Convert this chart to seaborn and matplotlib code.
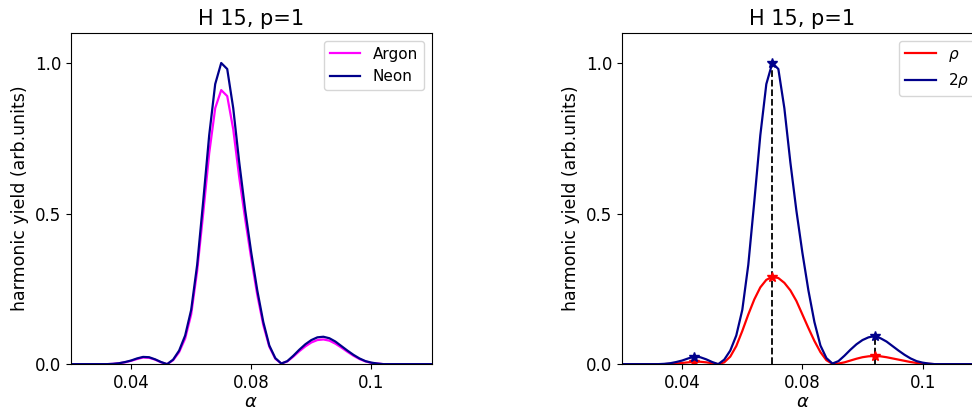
import numpy as np
import seaborn as sns
import matplotlib
matplotlib.use("Agg")
import matplotlib.pyplot as plt

# sample grid (axis position), ticks labelled 0.04 / 0.08 / 0.1
alpha = np.linspace(0.025, 0.115, 61)
tick_pos = [0.04, 0.07, 0.10]
tick_labels = ["0.04", "0.08", "0.1"]

yield_argon = [0, 0, 0, 0, 0, 0, 0,
               0.001, 0.003, 0.006, 0.011, 0.017, 0.022, 0.021, 0.015, 0.006, 0.000,
               0.013, 0.040, 0.085, 0.165, 0.31, 0.50, 0.70, 0.85, 0.91, 0.89, 0.78,
               0.62, 0.48, 0.35, 0.23, 0.13, 0.058, 0.018, 0.002, 0.009, 0.025, 0.043,
               0.059, 0.072, 0.080, 0.082, 0.078, 0.068, 0.055, 0.041, 0.028, 0.017,
               0.009, 0.004, 0.002,
               0, 0, 0, 0, 0, 0, 0, 0, 0]

yield_neon = [0, 0, 0, 0, 0, 0, 0,
              0.001, 0.003, 0.007, 0.012, 0.019, 0.024, 0.023, 0.016, 0.007, 0.000,
              0.015, 0.045, 0.095, 0.18, 0.33, 0.54, 0.76, 0.93, 1.00, 0.98, 0.85,
              0.67, 0.51, 0.37, 0.245, 0.14, 0.062, 0.02, 0.002, 0.01, 0.028, 0.048,
              0.066, 0.080, 0.089, 0.091, 0.086, 0.075, 0.060, 0.045, 0.031, 0.019,
              0.010, 0.005, 0.002,
              0, 0, 0, 0, 0, 0, 0, 0, 0]

yield_rho = [0, 0, 0, 0, 0, 0, 0, 0,
             0.001, 0.002, 0.004, 0.006, 0.008, 0.008, 0.006, 0.003, 0.000,
             0.006, 0.025, 0.06, 0.11, 0.165, 0.215, 0.255, 0.28, 0.29, 0.286, 0.27,
             0.245, 0.21, 0.165, 0.12, 0.077, 0.04, 0.013, 0.001, 0.002, 0.006, 0.012,
             0.018, 0.023, 0.026, 0.027, 0.026, 0.023, 0.019, 0.015, 0.011, 0.007,
             0.004, 0.002, 0.001,
             0, 0, 0, 0, 0, 0, 0, 0, 0]

yield_2rho = [0, 0, 0, 0, 0, 0, 0,
              0.001, 0.003, 0.007, 0.012, 0.019, 0.025, 0.023, 0.016, 0.007, 0.000,
              0.015, 0.045, 0.095, 0.18, 0.33, 0.54, 0.76, 0.93, 1.00, 0.98, 0.85,
              0.67, 0.51, 0.37, 0.245, 0.14, 0.062, 0.02, 0.002, 0.01, 0.028, 0.048,
              0.066, 0.080, 0.089, 0.093, 0.086, 0.075, 0.060, 0.045, 0.031, 0.019,
              0.010, 0.005, 0.002,
              0, 0, 0, 0, 0, 0, 0, 0, 0]

peaks = [12, 25, 42]

fig = plt.figure(figsize=(9.72, 4.11), dpi=100)
ax1 = fig.add_axes([0.073, 0.114, 0.371, 0.806])
ax2 = fig.add_axes([0.640, 0.114, 0.371, 0.806])

#left panel: gases
sns.lineplot(x=alpha, y=yield_argon, color="magenta", lw=1.6, label="Argon", ax=ax1)
sns.lineplot(x=alpha, y=yield_neon, color="darkblue", lw=1.6, label="Neon", ax=ax1)

#right panel: densities
sns.lineplot(x=alpha, y=yield_rho, color="red", lw=1.6, label=r"$\rho$", ax=ax2)
sns.lineplot(x=alpha, y=yield_2rho, color="darkblue", lw=1.6, label=r"$2\rho$", ax=ax2)
pk_x = alpha[peaks]
pk_rho = np.array(yield_rho)[peaks]
pk_2rho = np.array(yield_2rho)[peaks]
ax2.vlines(pk_x, 0, pk_2rho, colors="k", linestyles="--", lw=1.3, zorder=1)
ax2.plot(pk_x, pk_rho, "*", color="red", ms=7)
ax2.plot(pk_x, pk_2rho, "*", color="darkblue", ms=7)

for ax in (ax1, ax2):
    ax.set_xlim(0.025, 0.115)
    ax.set_ylim(0, 1.1)
    ax.set_xticks(tick_pos)
    ax.set_xticklabels(tick_labels)
    ax.set_yticks([0, 0.5, 1.0])
    ax.set_yticklabels(["0.0", "0.5", "1.0"])
    ax.tick_params(labelsize=12)
    ax.set_title("H 15, p=1", fontsize=15)
    ax.set_xlabel(r"$\alpha$", fontsize=13, labelpad=1)
    ax.set_ylabel("harmonic yield (arb.units)", fontsize=12.5)
    ax.legend(loc="upper right", fontsize=11)

fig.savefig("out.png", dpi=100)
